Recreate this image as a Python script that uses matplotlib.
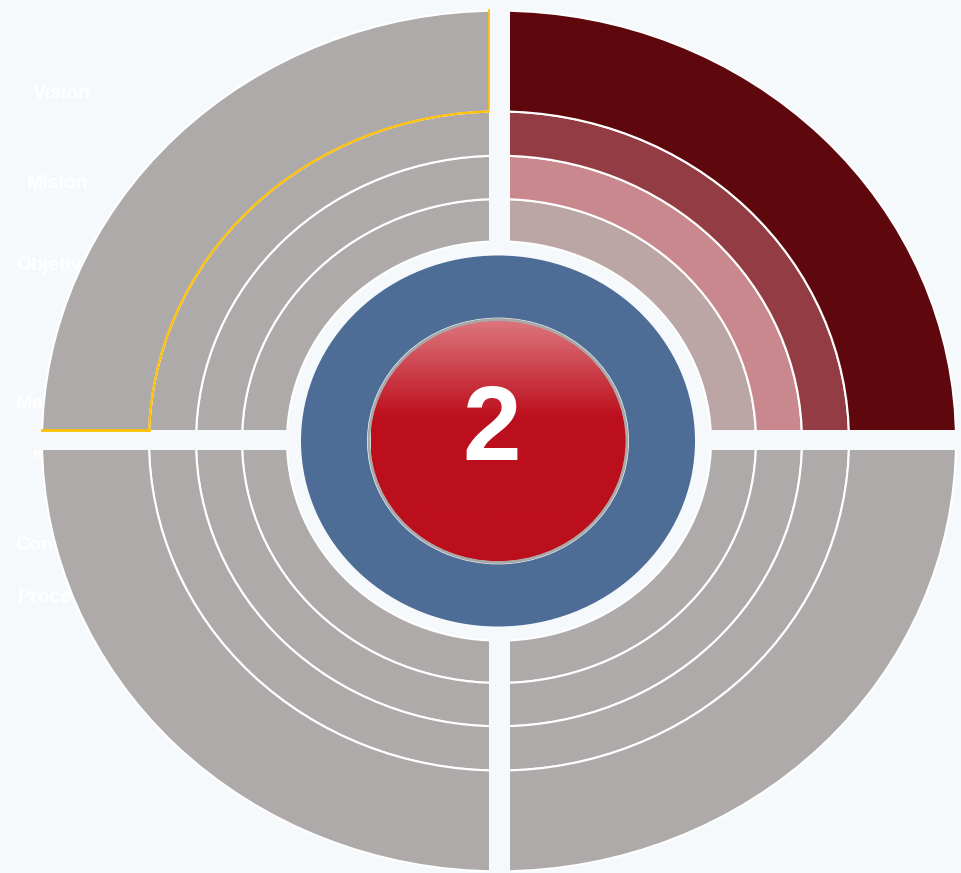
import numpy as np
import matplotlib.pyplot as plt
from matplotlib.patches import Wedge, Rectangle, Circle
from matplotlib.colors import to_rgb

W, H = 961, 873
K = 1.062          # the picture is a little wider than tall

# ring boundaries (horizontal radius, px)
ring_radii = [212, 257, 303, 350, 457]
quadrant_angles = [(0, 90), (90, 180), (180, 270), (270, 360)]
active_quadrant = 0
active_colors = ["#BBA5A5", "#C9888D", "#943C43", "#5E070D"]
idle_color = "#AEAAA9"

labels = ["Visión", "Misión", "Objetivos", "Mapa estratégico", "Metas", "Control", "Procesos"]
label_x = [33, 27, 16, 16, 33, 15, 18]
label_y = [94, 183, 265, 404, 453, 546, 598]

number = "2"
bg = "#F5F9FC"


def Y(py):
    return (H - py) * K


cx, cy = 499, Y(441)

fig = plt.figure(figsize=(W / 100, H / 100), dpi=100, facecolor=bg)
ax = fig.add_axes([0, 0, 1, 1])
ax.set_facecolor(bg)
ax.axis("off")

# labels sit underneath the rings
for t, x, y in zip(labels, label_x, label_y):
    ax.text(x, Y(y), t, color="white", fontsize=14, fontweight="bold",
            family="Liberation Sans", ha="left", va="center", zorder=1)

# quadrant rings
for q, (t1, t2) in enumerate(quadrant_angles):
    for i in range(len(ring_radii) - 1):
        r0, r1 = ring_radii[i], ring_radii[i + 1]
        col = active_colors[i] if q == active_quadrant else idle_color
        ax.add_patch(Wedge((cx, cy), r1, t1, t2, width=r1 - r0,
                           facecolor=col, edgecolor="white", lw=1.5, zorder=2))

# gaps between quadrants
ax.add_patch(Rectangle((488.5, 0), 21.5, H * K, color=bg, lw=0, zorder=3))
ax.add_patch(Rectangle((0, Y(450)), W, 20 * K, color=bg, lw=0, zorder=3))

# yellow selection outline on the top-left outer band
r = ring_radii[3]
a1 = np.degrees(np.arccos((488.5 - cx) / r))
a2 = 180 - np.degrees(np.arcsin((Y(430) - cy) / r))
th = np.radians(np.linspace(a1, a2, 200))
ax.plot(cx + r * np.cos(th), cy + r * np.sin(th), color="#FFC000", lw=1.6, zorder=4)
ax.plot([42, cx + r * np.cos(th[-1])], [Y(430)] * 2, color="#FFC000", lw=2, zorder=4)
ax.plot([488.5, 488.5], [Y(10), Y(109)], color="#FFC000", lw=1.2, zorder=4)

# blue ring
ax.add_patch(Wedge((cx - 1, cy), 197, 0, 360, width=66, facecolor="#4E6D96",
                   edgecolor="none", zorder=5))

# red centre button with a vertical gradient
rc = 128
top, mid = np.array(to_rgb("#DC767D")), np.array(to_rgb("#BC0F1D"))
f = np.clip(np.linspace(0, 1, 256) / 0.4, 0, 1)[:, None]
grad = (top * (1 - f) + mid * f)[:, None, :]
im = ax.imshow(grad, extent=(cx - rc, cx + rc, cy - rc, cy + rc),
               origin="upper", aspect="auto", zorder=6)
clip = Circle((cx - 1, cy), rc, transform=ax.transData)
im.set_clip_path(clip)
ax.add_patch(Circle((cx - 1, cy), rc + 1, fill=False, edgecolor="#A8A8A8",
                    lw=2, zorder=7))
ax.text(492, Y(433), number, color="white", fontsize=76, fontweight="bold",
        family="Liberation Sans", ha="center", va="center", zorder=8)

ax.set_xlim(0, W)
ax.set_ylim(0, H * K)
ax.set_aspect("auto")

fig.savefig("out.png", dpi=100, facecolor=bg)
